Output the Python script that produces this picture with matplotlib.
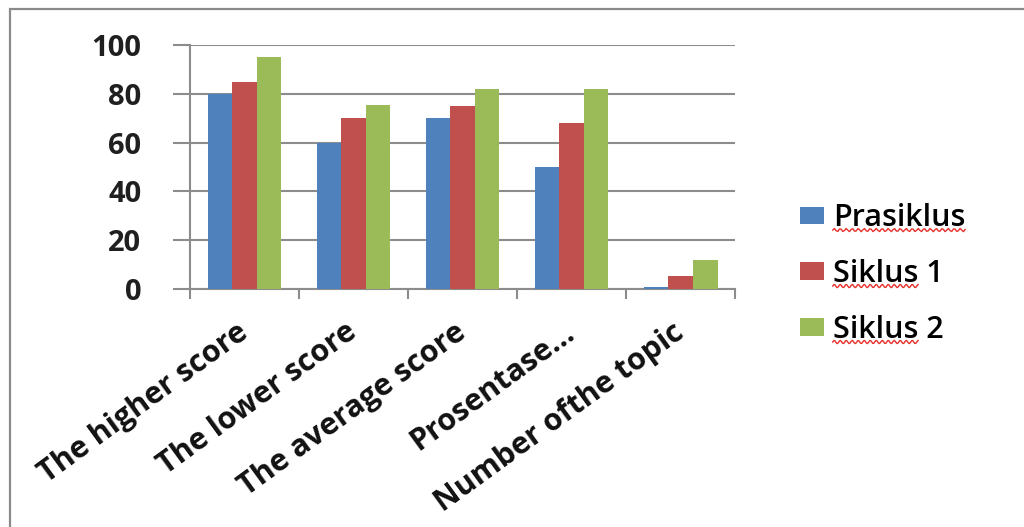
import matplotlib.pyplot as plt
import numpy as np
from matplotlib.patches import Rectangle
from matplotlib.lines import Line2D

categories = ["The higher score", "The lower score", "The average score",
              "Prosentase...", "Number ofthe topic"]
prasiklus = [80, 60, 70, 50, 1]
siklus1 = [85, 70, 75, 68, 5.5]
siklus2 = [95, 75.5, 82, 82, 12]
seriesNames = ["Prasiklus", "Siklus 1", "Siklus 2"]
seriesColors = ["#4F81BD", "#C0504D", "#9BBB59"]
yTicks = [0, 20, 40, 60, 80, 100]

plt.rcParams['font.family'] = ['Open Sans', 'DejaVu Sans']

fig = plt.figure(figsize=(10.24, 5.27), dpi=100)
ax = fig.add_axes([0.1855, 0.4516, 0.5325, 0.463])

# outer frame of the chart area
fig.patches.append(Rectangle((0.0098, -0.05), 1.2, 1.033, transform=fig.transFigure,
                             fill=False, edgecolor="#8a8a8a", linewidth=1.6))

x = np.arange(len(categories))
barWidth = 0.225
for i, (vals, name, col) in enumerate(zip([prasiklus, siklus1, siklus2], seriesNames, seriesColors)):
    ax.bar(x + (i - 1) * barWidth, vals, barWidth, color=col, label=name, zorder=3)

ax.set_xlim(-0.5, len(categories) - 0.5)
ax.set_ylim(0, 100)
ax.set_yticks(yTicks)
ax.set_yticklabels([str(t) for t in yTicks], fontsize=21, fontweight='bold', color="#1f1f1f")
ax.yaxis.grid(True, color="#8c8c8c", linewidth=1.5, zorder=0)
ax.tick_params(axis='y', length=12, width=1.5, color="#8c8c8c", pad=23)

# category ticks at the boundaries, labels at the centres
ax.set_xticks(np.arange(len(categories) + 1) - 0.5)
ax.set_xticklabels([])
ax.tick_params(axis='x', which='major', length=7, width=1.5, color="#8c8c8c")
ax.set_xticks(x, minor=True)
ax.set_xticklabels(categories, minor=True, rotation=36, ha='right', va='center',
                   rotation_mode='anchor', fontsize=22, fontweight='bold', color="#111111")
ax.tick_params(axis='x', which='minor', length=0, pad=29)

for side in ["top", "right"]:
    ax.spines[side].set_visible(False)
for side in ["left", "bottom"]:
    ax.spines[side].set_color("#8c8c8c")
    ax.spines[side].set_linewidth(1.5)

legendFont = {'size': 22, 'weight': 'semibold'}
leg = fig.legend(loc='center left', bbox_to_anchor=(0.781, 0.48), frameon=False,
                 prop=legendFont, handlelength=0.78, handleheight=0.5,
                 handletextpad=0.3, labelspacing=0.85, borderpad=0, borderaxespad=0)

# red spell-check squiggle under the first word of each legend entry
fig.canvas.draw()
renderer = fig.canvas.get_renderer()
for txt in leg.get_texts():
    box = txt.get_window_extent(renderer)
    word = txt.get_text().split()[0]
    probe = fig.text(0, 0, word, fontproperties=txt.get_fontproperties())
    wordWidth = probe.get_window_extent(renderer).width
    probe.remove()
    xs = np.linspace(box.x0, box.x0 + wordWidth, 80)
    ys = box.y0 + 3 + 1.6 * np.sin((xs - box.x0) / 6.0 * 2 * np.pi)
    fig.lines.append(Line2D(xs / fig.bbox.width, ys / fig.bbox.height,
                            transform=fig.transFigure, color="#e8302a", linewidth=1.0))

fig.savefig("out.png", dpi=100)
